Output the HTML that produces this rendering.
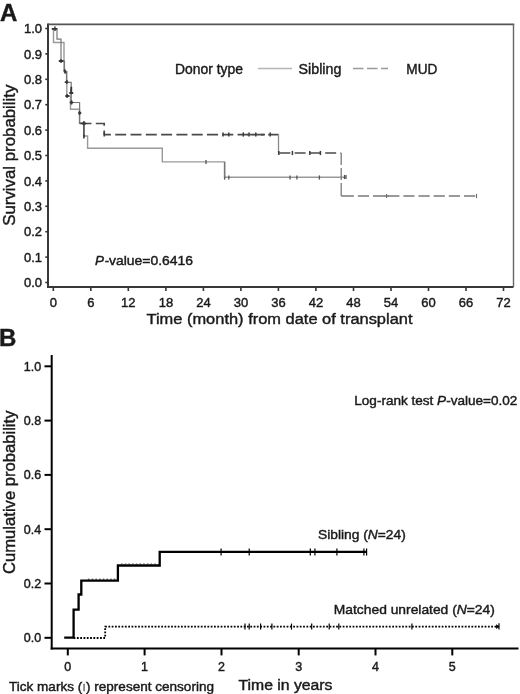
<!DOCTYPE html>
<html><head><meta charset="utf-8">
<style>
html,body{margin:0;padding:0;background:#fff;width:520px;height:694px;overflow:hidden}
svg{display:block;filter:blur(0.3px)}
text{font-family:"Liberation Sans",sans-serif;fill:#1a1a1a;stroke:#1a1a1a;stroke-width:0.42px}
</style></head>
<body>
<svg width="520" height="694" viewBox="0 0 520 694">
<!-- ================= PANEL A ================= -->
<text x="0" y="20.5" font-size="24" font-weight="bold" fill="#000">A</text>
<!-- box -->
<line x1="48" y1="23.5" x2="48" y2="287" stroke="#383838" stroke-width="2"/>
<line x1="47" y1="287" x2="513.5" y2="287" stroke="#383838" stroke-width="1.8"/>
<line x1="48" y1="24.4" x2="514.2" y2="24.4" stroke="#555" stroke-width="1.8"/>
<line x1="513.5" y1="24" x2="513.5" y2="287" stroke="#666" stroke-width="1.4"/>
<!-- y ticks A -->
<g stroke="#333" stroke-width="1.6">
<line x1="45.3" y1="28.5" x2="48" y2="28.5"/>
<line x1="45.3" y1="53.9" x2="48" y2="53.9"/>
<line x1="45.3" y1="79.3" x2="48" y2="79.3"/>
<line x1="45.3" y1="104.7" x2="48" y2="104.7"/>
<line x1="45.3" y1="130.1" x2="48" y2="130.1"/>
<line x1="45.3" y1="155.5" x2="48" y2="155.5"/>
<line x1="45.3" y1="180.9" x2="48" y2="180.9"/>
<line x1="45.3" y1="206.3" x2="48" y2="206.3"/>
<line x1="45.3" y1="231.7" x2="48" y2="231.7"/>
<line x1="45.3" y1="257.1" x2="48" y2="257.1"/>
<line x1="45.3" y1="282.5" x2="48" y2="282.5"/>
</g>
<g font-size="13" text-anchor="end" stroke-width="0.55">
<text x="42" y="33.1">1.0</text>
<text x="42" y="58.5">0.9</text>
<text x="42" y="83.9">0.8</text>
<text x="42" y="109.3">0.7</text>
<text x="42" y="134.7">0.6</text>
<text x="42" y="160.1">0.5</text>
<text x="42" y="185.5">0.4</text>
<text x="42" y="210.9">0.3</text>
<text x="42" y="236.3">0.2</text>
<text x="42" y="261.7">0.1</text>
<text x="42" y="287.1">0.0</text>
</g>
<!-- x ticks A -->
<g stroke="#333" stroke-width="1.6">
<line x1="53.3" y1="287" x2="53.3" y2="291"/>
<line x1="90.8" y1="287" x2="90.8" y2="291"/>
<line x1="128.3" y1="287" x2="128.3" y2="291"/>
<line x1="165.9" y1="287" x2="165.9" y2="291"/>
<line x1="203.4" y1="287" x2="203.4" y2="291"/>
<line x1="240.9" y1="287" x2="240.9" y2="291"/>
<line x1="278.4" y1="287" x2="278.4" y2="291"/>
<line x1="315.9" y1="287" x2="315.9" y2="291"/>
<line x1="353.5" y1="287" x2="353.5" y2="291"/>
<line x1="391.0" y1="287" x2="391.0" y2="291"/>
<line x1="428.5" y1="287" x2="428.5" y2="291"/>
<line x1="466.0" y1="287" x2="466.0" y2="291"/>
<line x1="503.5" y1="287" x2="503.5" y2="291"/>
</g>
<g font-size="13" text-anchor="middle" stroke-width="0.45">
<text x="53.3" y="306.5">0</text>
<text x="90.8" y="306.5">6</text>
<text x="128.3" y="306.5">12</text>
<text x="165.9" y="306.5">18</text>
<text x="203.4" y="306.5">24</text>
<text x="240.9" y="306.5">30</text>
<text x="278.4" y="306.5">36</text>
<text x="315.9" y="306.5">42</text>
<text x="353.5" y="306.5">48</text>
<text x="391.0" y="306.5">54</text>
<text x="428.5" y="306.5">60</text>
<text x="466.0" y="306.5">66</text>
<text x="503.5" y="306.5">72</text>
</g>
<text x="146.5" y="324.2" font-size="15.5" textLength="266" lengthAdjust="spacingAndGlyphs">Time (month) from date of transplant</text>
<text transform="translate(14.7,225.8) rotate(-90)" font-size="16.2" textLength="141.2" lengthAdjust="spacingAndGlyphs">Survival probability</text>
<!-- legend A -->
<text x="175" y="74.4" font-size="14" stroke-width="0.62" textLength="68" lengthAdjust="spacingAndGlyphs">Donor type</text>
<line x1="258" y1="68.5" x2="292" y2="68.5" stroke="#b5b5b5" stroke-width="1.3"/>
<text x="298.6" y="74.4" font-size="14" stroke-width="0.62" textLength="42.8" lengthAdjust="spacingAndGlyphs">Sibling</text>
<line x1="353" y1="68.5" x2="388" y2="68.5" stroke="#999" stroke-width="1.5" stroke-dasharray="10.5,3.5"/>
<text x="406.3" y="74.4" font-size="14" stroke-width="0.62" textLength="31" lengthAdjust="spacingAndGlyphs">MUD</text>
<g font-size="13.4" stroke-width="0.62"><text x="95" y="265" font-style="italic" textLength="9" lengthAdjust="spacingAndGlyphs">P</text><text x="104.8" y="265">-</text><text x="109" y="265" textLength="84" lengthAdjust="spacingAndGlyphs">value=0.6416</text></g>

<!-- curves A -->
<!-- Sibling (solid light gray) -->
<path d="M52,28.8 H53.5 V42.5 H64 V71.5 H66.8 V96 H70.5 V109.3 H79.5 V123 H83.9 V136 H87.6 V148.3 H162.3 V161.9 H224.6 V177.2 H346"
 fill="none" stroke="#999" stroke-width="1.4"/>
<!-- MUD (dashed dark gray) -->
<path d="M52,28.8 H57 V39.2 H61 V61 H64.5 V71.5 H66.5 V82.3 H71.2 V102.5 H79.6 V123.5" fill="none" stroke="#777" stroke-width="1.2"/>
<g fill="none" stroke="#4a4a4a" stroke-width="1.7">
<path d="M79.6,123.5 H91.5 M95.8,123.5 H104.2 V125.8 M104.2,130.5 V134.6"/>
<path d="M104.2,134.6 H278.5" stroke-dasharray="11,4.3" stroke-dashoffset="4.3"/>
<path d="M278.5,134.6 V153" stroke="#8a8a8a" stroke-width="1.3"/>
<path d="M278.5,153 H341.2" stroke-dasharray="11,4.3" stroke-dashoffset="14.5"/>
<path d="M341.2,153 V165 M341.2,168 V180 M341.2,183 V196" stroke="#7a7a7a" stroke-width="1.3"/>
<path d="M341.2,196 H353.9 M384,196 H389" stroke="#7a7a7a" stroke-width="1.4"/>
<path d="M357.9,196 H477.3" stroke="#7a7a7a" stroke-width="1.4" stroke-dasharray="11.2,3.95"/>
</g>
<!-- early blobs -->
<g stroke="#333" stroke-width="1.8" stroke-linecap="round">
<line x1="52.5" y1="28.8" x2="56.5" y2="28.8"/>
<line x1="59.5" y1="61" x2="62.8" y2="61"/>
<line x1="64.5" y1="70.5" x2="65.5" y2="72.5"/>
<line x1="65.5" y1="82.2" x2="67.5" y2="82.2"/>
<line x1="71.3" y1="87.5" x2="71.3" y2="93.5"/>
<line x1="70" y1="93" x2="72.5" y2="93"/>
<line x1="66" y1="96" x2="68.5" y2="96"/>
<line x1="70.5" y1="102.5" x2="72.5" y2="102.5"/>
<line x1="79" y1="113" x2="80.5" y2="113"/>
<line x1="82.5" y1="123.5" x2="85.5" y2="123.5"/>
</g>
<path d="M83.9,123.5 V137" stroke="#555" stroke-width="1.6" fill="none"/>
<!-- censor ticks A -->
<g stroke="#3a3a3a" stroke-width="1.5">
<line x1="55" y1="26.6" x2="55" y2="30.9"/>
<line x1="61" y1="58.9" x2="61" y2="63.1"/>
<line x1="65" y1="69.4" x2="65" y2="73.6"/>
<line x1="66.8" y1="79.9" x2="66.8" y2="84.1"/>
<line x1="71.2" y1="88.9" x2="71.2" y2="93.1"/>
<line x1="67" y1="93.9" x2="67" y2="98.1"/>
<line x1="71.5" y1="100.4" x2="71.5" y2="104.6"/>
<line x1="79.5" y1="110.9" x2="79.5" y2="115.1"/>
<line x1="83.9" y1="120.9" x2="83.9" y2="125.1"/>
<line x1="83.9" y1="134.4" x2="83.9" y2="138.6"/>
<line x1="104.2" y1="132.4" x2="104.2" y2="136.6"/>
<line x1="223" y1="132.4" x2="223" y2="136.6"/>
<line x1="228.8" y1="132.4" x2="228.8" y2="136.6"/>
<line x1="243.3" y1="132.4" x2="243.3" y2="136.6"/>
<line x1="249" y1="132.4" x2="249" y2="136.6"/>
<line x1="255.8" y1="132.4" x2="255.8" y2="136.6"/>
<line x1="270.2" y1="132.4" x2="270.2" y2="136.6"/>
<line x1="278.8" y1="150.9" x2="278.8" y2="155.1"/>
<line x1="292.4" y1="150.9" x2="292.4" y2="155.1"/>
<line x1="309.8" y1="150.9" x2="309.8" y2="155.1"/>
<line x1="320.4" y1="150.9" x2="320.4" y2="155.1"/>
<line x1="386.6" y1="193.9" x2="386.6" y2="198.1" stroke="#666" stroke-width="1.1"/>
<line x1="476.5" y1="193.9" x2="476.5" y2="198.1" stroke="#666" stroke-width="1.1"/>
</g>
<g stroke="#555" stroke-width="1.3">
<line x1="206" y1="159.9" x2="206" y2="164.1"/>
<line x1="224.6" y1="175.4" x2="224.6" y2="179.6"/>
<line x1="228.8" y1="175.4" x2="228.8" y2="179.6"/>
<line x1="290" y1="175.4" x2="290" y2="179.6"/>
<line x1="296.9" y1="175.4" x2="296.9" y2="179.6"/>
<line x1="319.4" y1="175.4" x2="319.4" y2="179.6"/>
<line x1="344.5" y1="174.9" x2="344.5" y2="179.1"/>
<line x1="346" y1="174.9" x2="346" y2="179.1"/>
</g>

<path d="M247.5,134.6 H253.5 M261,134.6 H265" stroke="#4a4a4a" stroke-width="1.7"/>
<path d="M224.6,162 V177.2" stroke="#777" stroke-width="1.4"/>
<!-- ================= PANEL B ================= -->
<text x="-1" y="345.7" font-size="24" font-weight="bold" fill="#000">B</text>
<line x1="51.7" y1="355" x2="51.7" y2="649.5" stroke="#000" stroke-width="2"/>
<line x1="50.7" y1="648.5" x2="518.5" y2="648.5" stroke="#000" stroke-width="2"/>
<g stroke="#000" stroke-width="2">
<line x1="44.5" y1="366.3" x2="51" y2="366.3"/>
<line x1="44.5" y1="420.6" x2="51" y2="420.6"/>
<line x1="44.5" y1="474.9" x2="51" y2="474.9"/>
<line x1="44.5" y1="529.2" x2="51" y2="529.2"/>
<line x1="44.5" y1="583.5" x2="51" y2="583.5"/>
<line x1="44.5" y1="637.8" x2="51" y2="637.8"/>
</g>
<g font-size="12.5" text-anchor="end">
<text x="41.2" y="370.7">1.0</text>
<text x="41.2" y="425">0.8</text>
<text x="41.2" y="479.3">0.6</text>
<text x="41.2" y="533.6">0.4</text>
<text x="41.2" y="587.9">0.2</text>
<text x="41.2" y="642.2">0.0</text>
</g>
<g stroke="#000" stroke-width="2">
<line x1="67.8" y1="649" x2="67.8" y2="655.4"/>
<line x1="144.6" y1="649" x2="144.6" y2="655.4"/>
<line x1="221.5" y1="649" x2="221.5" y2="655.4"/>
<line x1="298.7" y1="649" x2="298.7" y2="655.4"/>
<line x1="375.5" y1="649" x2="375.5" y2="655.4"/>
<line x1="452.3" y1="649" x2="452.3" y2="655.4"/>
</g>
<g font-size="12.5" text-anchor="middle">
<text x="67.8" y="671.3">0</text>
<text x="144.6" y="671.3">1</text>
<text x="221.5" y="671.3">2</text>
<text x="298.7" y="671.3">3</text>
<text x="375.5" y="671.3">4</text>
<text x="452.3" y="671.3">5</text>
</g>
<text transform="translate(14.7,574) rotate(-90)" font-size="16.2" textLength="163.5" lengthAdjust="spacingAndGlyphs">Cumulative probability</text>
<text x="9" y="690.9" font-size="12.6" textLength="205" lengthAdjust="spacingAndGlyphs">Tick marks (<tspan fill="#777" stroke="#777">ı</tspan>) represent censoring</text>
<text x="238.5" y="690.4" font-size="14" textLength="94" lengthAdjust="spacingAndGlyphs">Time in years</text>
<text x="354.3" y="404.6" font-size="13" stroke-width="0.4" textLength="163" lengthAdjust="spacingAndGlyphs">Log-rank test <tspan font-style="italic">P</tspan>-value=0.02</text>
<text x="318" y="538.6" font-size="13" stroke-width="0.45" textLength="87.8" lengthAdjust="spacingAndGlyphs">Sibling (<tspan font-style="italic">N</tspan>=24)</text>
<text x="333.8" y="614" font-size="13" stroke-width="0.4" textLength="161" lengthAdjust="spacingAndGlyphs">Matched unrelated (<tspan font-style="italic">N</tspan>=24)</text>

<!-- curves B -->
<path d="M64.2,637.7 H73.6 V609.7 H78.6 V594.5 H81.3 V580.6 H117.9 V565.5 H159.7 V551.9 H366.6" fill="none" stroke="#000" stroke-width="2.3"/>
<path d="M88,579.2 H116 M121,564.1 H158" stroke="#222" stroke-width="1" stroke-dasharray="1.5,2.2" fill="none"/>
<path d="M73.6,638 H105.2 V626.6 H499" fill="none" stroke="#000" stroke-width="1.8" stroke-dasharray="1.8,1.5"/>
<g stroke="#000" stroke-width="1.2">
<line x1="221.1" y1="548.5" x2="221.1" y2="555.5"/>
<line x1="249.2" y1="548.5" x2="249.2" y2="555.5"/>
<line x1="310.3" y1="548.5" x2="310.3" y2="555.5"/>
<line x1="314.9" y1="548.5" x2="314.9" y2="555.5"/>
<line x1="336.9" y1="548.5" x2="336.9" y2="555.5"/>
<line x1="363.9" y1="548.5" x2="363.9" y2="555.5"/>
<line x1="366.6" y1="548.5" x2="366.6" y2="555.5"/>
<line x1="245" y1="623.6" x2="245" y2="629.6"/>
<line x1="249.2" y1="623.6" x2="249.2" y2="629.6"/>
<line x1="260.6" y1="623.6" x2="260.6" y2="629.6"/>
<line x1="271.9" y1="623.6" x2="271.9" y2="629.6"/>
<line x1="291.5" y1="623.6" x2="291.5" y2="629.6"/>
<line x1="311.7" y1="623.6" x2="311.7" y2="629.6"/>
<line x1="329.2" y1="623.6" x2="329.2" y2="629.6"/>
<line x1="338.8" y1="623.6" x2="338.8" y2="629.6"/>
<line x1="411.9" y1="623.6" x2="411.9" y2="629.6"/>
<line x1="499" y1="623.2" x2="499" y2="629.6"/><path d="M496.5,624.8 L499,626.6 L496.5,628.4 Z" fill="#000" stroke-width="0.8"/>
</g>
</svg>
</body></html>
